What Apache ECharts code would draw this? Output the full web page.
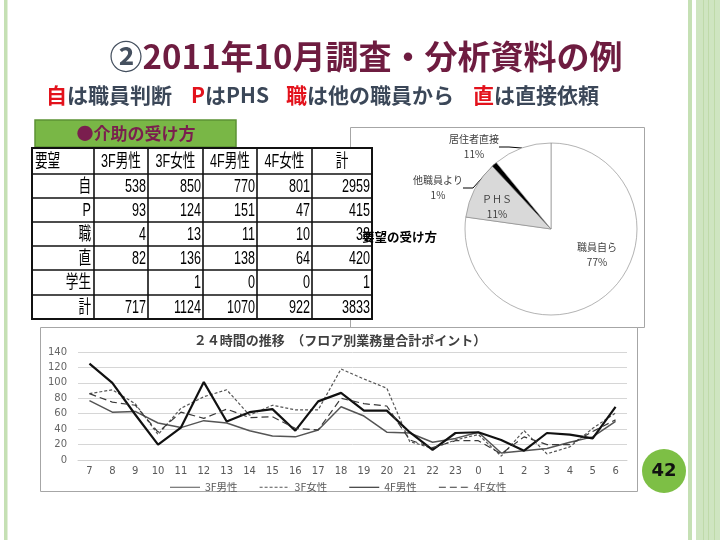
<!DOCTYPE html>
<html><head><meta charset="utf-8">
<script src="https://cdn.jsdelivr.net/npm/echarts@6/dist/echarts.min.js"></script>
<style>html,body{margin:0;padding:0;background:#fff}#c{width:720px;height:540px}</style>
</head><body><div id="c"></div>
<script>
// ---- line chart data ----
const hours = ['7','8','9','10','11','12','13','14','15','16','17','18','19','20','21','22','23','0','1','2','3','4','5','6'];
const m3F = [77,62,63,48,42,51,48,38,31,30,39,69,57,36,35,23,28,36,9,12,15,23,30,50];
const f3F = [86,91,73,33,67,82,91,58,71,65,65,118,105,93,24,15,26,33,5,38,8,17,41,61];
const m4F = [125,100,59,20,42,101,50,62,66,38,76,87,64,64,36,13,35,36,26,12,35,33,28,69];
const f4F = [86,75,71,36,62,54,66,55,56,41,39,80,73,70,26,16,25,25,8,30,20,20,37,52];
const seriesNames = ['3F男性','3F女性','4F男性','4F女性'];
const yMin = 0, yMax = 140, yStep = 20;

// ---- pie data ----
const pieNames = ['職員自ら','ＰＨＳ','他職員より','居住者直接'];
const pieValues = [2959, 415, 38, 420];

// ---- table data ----
const tableHeader = ['要望','3F男性','3F女性','4F男性','4F女性','計'];
const rowNames = ['自','P','職','直','学生','計'];
const t3Fm = [538, 93, 4, 82, '', 717];
const t3Ff = [850, 124, 13, 136, 1, 1124];
const t4Fm = [770, 151, 11, 138, 0, 1070];
const t4Ff = [801, 47, 10, 64, 0, 922];
const tTotal = [2959, 415, 38, 420, 1, 3833];

// ---- texts ----
const slideTitleMark = '②';
const slideTitle = '2011年10月調査・分析資料の例';
const legendNotes = [['自','は職員判断'],['P','はPHS'],['職','は他の職員から'],['直','は直接依頼']];
const boxLabel = '●介助の受け方';
const pieTitle = '要望の受け方';
const lineTitle = '２４時間の推移　（フロア別業務量合計ポイント）';
const pageNo = '42';

const chart = echarts.init(document.getElementById('c'), null, {renderer:'canvas'});
const CJK = '"Noto Sans CJK JP", sans-serif';

const g = [];
// slide decorations
g.push({type:'rect', z:-20, shape:{x:4,y:0,width:3.5,height:540}, style:{fill:'#c5e0b4'}});
g.push({type:'rect', z:-20, shape:{x:688,y:0,width:4,height:540}, style:{fill:'#c5e0b4'}});
g.push({type:'rect', z:-20, shape:{x:696,y:0,width:24,height:540}, style:{fill:'#cfe5c1'}});
[703,708,714].forEach(x=>g.push({type:'rect', z:-19, shape:{x:x,y:0,width:1,height:540}, style:{fill:'#bfdaa9'}}));

// title
g.push({type:'text', x:366, y:56, style:{text:'{c|'+slideTitleMark+'}{t|'+slideTitle+'}', align:'center', verticalAlign:'middle',
  rich:{c:{fontSize:33, fontWeight:'bold', fontFamily:CJK, fill:'#45505f'}, t:{fontSize:33, fontWeight:'bold', fontFamily:CJK, fill:'#6e1c40'}}}});
// subtitle
const noteX = [46, 191, 286, 473];
legendNotes.forEach((n,i)=>g.push({type:'text', x:noteX[i], y:95, style:{text:'{r|'+n[0]+'}{g|'+n[1]+'}', align:'left', verticalAlign:'middle',
  rich:{r:{fontSize:21, fontWeight:'bold', fontFamily:CJK, fill:'#e3121c'}, g:{fontSize:21, fontWeight:'bold', fontFamily:CJK, fill:'#3b4758'}}}}));

// green box
g.push({type:'rect', shape:{x:35,y:120,width:201,height:27}, style:{fill:'#79b746', stroke:'#5c9334', lineWidth:1.5}});
g.push({type:'text', x:136, y:134, style:{text:boxLabel, align:'center', verticalAlign:'middle', fontSize:17, fontWeight:'bold', fontFamily:CJK, fill:'#7a1e4e'}});

// pie box
g.push({type:'rect', z:-5, shape:{x:350.5,y:127.5,width:294,height:200}, style:{fill:'#fff', stroke:'#a6a6a6', lineWidth:1}});
// line chart box
g.push({type:'rect', z:-5, shape:{x:40.5,y:327.5,width:597,height:164}, style:{fill:'#fff', stroke:'#a6a6a6', lineWidth:1}});

// table
const rowsY = [148,174,198,222,246,270,295,319];
const colsX = [32,94,148,203,257,312,372];
g.push({type:'rect', z:10, shape:{x:colsX[0],y:rowsY[0],width:colsX[6]-colsX[0],height:rowsY[7]-rowsY[0]}, style:{fill:'#fff', stroke:'#111', lineWidth:2}});
for (let i=1;i<rowsY.length-1;i++) g.push({type:'line', z:11, shape:{x1:colsX[0],y1:rowsY[i],x2:colsX[6],y2:rowsY[i]}, style:{stroke:'#111', lineWidth:1.6}});
for (let j=1;j<colsX.length-1;j++) g.push({type:'line', z:11, shape:{x1:colsX[j],y1:rowsY[0],x2:colsX[j],y2:rowsY[7]}, style:{stroke:'#111', lineWidth:1.6}});
const cellText = (txt, x, y, align) => g.push({type:'text', z:12, x:x, y:y, scaleX:0.7,
  style:{text:String(txt), align:align, verticalAlign:'middle', fontSize:18, fontFamily:'"Liberation Sans", "Noto Sans CJK JP", sans-serif', fill:'#000'}});
tableHeader.forEach((h,j)=>{
  const yc = (rowsY[0]+rowsY[1])/2 + 1;
  if (j===0) cellText(h, colsX[0]+3, yc, 'left');
  else cellText(h, (colsX[j]+colsX[j+1])/2, yc, 'center');
});
const tableCols = [t3Fm, t3Ff, t4Fm, t4Ff, tTotal];
rowNames.forEach((r,i)=>{
  const yc = (rowsY[i+1]+rowsY[i+2])/2 + 1;
  cellText(r, colsX[1]-3, yc, 'right');
  tableCols.forEach((col,j)=>{ if (col[i]!=='') cellText(col[i], colsX[j+2]-2, yc, 'right'); });
});

// pie title
g.push({type:'text', z:20, x:362, y:237, style:{text:pieTitle, align:'left', verticalAlign:'middle', fontSize:12.5, fontWeight:'bold', fontFamily:CJK, fill:'#000'}});
// line chart title
g.push({type:'text', x:340, y:340, style:{text:lineTitle, align:'center', verticalAlign:'middle', fontSize:13, fontWeight:'bold', fontFamily:CJK, fill:'#404040'}});
// page number
g.push({type:'circle', shape:{cx:664,cy:471,r:22}, style:{fill:'#7dbf45'}});
g.push({type:'text', x:664, y:471, style:{text:pageNo, align:'center', verticalAlign:'middle', fontSize:18, fontWeight:'bold', fontFamily:'"DejaVu Sans", sans-serif', fill:'#111'}});

const pieLabelPos = [[597,255],[497,207],[438,188],[474,147]];
const pieColors = ['#ffffff','#d9d9d9','#000000','#ffffff'];

const lineStyles = [
  {color:'#555555', width:1.5, type:'solid'},
  {color:'#555555', width:1.2, type:[3,2]},
  {color:'#111111', width:2.2, type:'solid'},
  {color:'#3a3a3a', width:1.2, type:[7,4]}
];
const legendIcons = [
  'path://M0,0H30V1H0Z',
  'path://M0,0h3v1h-3zM5,0h3v1h-3zM10,0h3v1h-3zM15,0h3v1h-3zM20,0h3v1h-3zM25,0h3v1h-3zM30,0h0.1v1h-0.1z',
  'path://M0,0H30V1H0Z',
  'path://M0,0h7v1h-7zM11,0h7v1h-7zM22,0h7v1h-7zM30,0h0.1v1h-0.1z'
];
const legendIconH = [1.5, 1.3, 2.2, 1.3];
const lineData = [m3F, f3F, m4F, f4F];

const option = {
  animation:false,
  backgroundColor:'#ffffff',
  graphic:{elements:g},
  grid:{left:78, right:93, top:352, bottom:80, containLabel:false},
  legend:{show:true, orient:'horizontal', left:165, top:477, itemWidth:30, itemHeight:2, itemGap:22,
    data:seriesNames.map((n,i)=>({name:n, icon:legendIcons[i]})),
    textStyle:{fontSize:10.5, color:'#595959', fontFamily:CJK}},
  xAxis:{type:'category', data:hours, boundaryGap:true,
    axisLine:{lineStyle:{color:'#d0d0d0'}}, axisTick:{show:false},
    axisLabel:{fontSize:10, color:'#595959', fontFamily:'"DejaVu Sans", sans-serif', margin:6, interval:0}},
  yAxis:{type:'value', min:yMin, max:yMax, interval:yStep,
    axisLine:{show:false}, axisTick:{show:false},
    splitLine:{lineStyle:{color:'#d6d6d6'}},
    axisLabel:{fontSize:10, color:'#666666', fontFamily:'"DejaVu Sans", sans-serif', margin:11}},
  series: seriesNames.map((n,i)=>({
    name:n, type:'line', data:lineData[i], symbol:'none', showSymbol:false,
    lineStyle:lineStyles[i], itemStyle:{color:lineStyles[i].color}, z:3
  })).concat([{
    type:'pie', name:pieTitle, center:[551,229], radius:86, startAngle:90, clockwise:true,
    percentPrecision:0, avoidLabelOverlap:false, z:4, legendHoverLink:false,
    itemStyle:{borderColor:'#7f7f7f', borderWidth:0.6},
    label:{show:true, position:'outside', formatter:'{b}\n{d}%', fontSize:10, lineHeight:15, color:'#404040', fontFamily:CJK, align:'center'},
    labelLine:{show:true, length:8, length2:10, lineStyle:{color:'#000', width:1}},
    labelLayout:function(p){ const q = pieLabelPos[p.dataIndex]; return {x:q[0], y:q[1], align:'center', verticalAlign:'middle'}; },
    data: pieNames.map((n,i)=>({name:n, value:pieValues[i], itemStyle:{color:pieColors[i]},
      labelLine:{show: i>=2}}))
  }])
};
chart.setOption(option);
</script></body></html>
